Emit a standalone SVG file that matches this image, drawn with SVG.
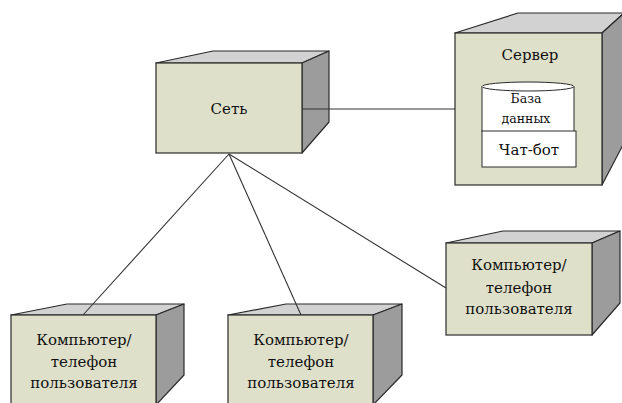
<svg xmlns="http://www.w3.org/2000/svg" width="622" height="403" viewBox="0 0 622 403">
<style>
.front{fill:#dee0ca;stroke:#2a2a2a;stroke-width:1.2}
.top{fill:#d2d2d2;stroke:#2a2a2a;stroke-width:1.2;stroke-linejoin:round}
.side{fill:#9c9c9c;stroke:#2a2a2a;stroke-width:1.2;stroke-linejoin:round}
text{font-family:'DejaVu Serif','Liberation Serif',serif;fill:#111;text-anchor:middle}
.t{font-size:15px}
.ts{font-size:12.5px}
.wb{fill:#fff;stroke:#2a2a2a;stroke-width:1}
.conn{stroke:#333;stroke-width:1.1;fill:none}
</style>
<rect width="622" height="403" fill="#fff"/>
<g id="node-set">
<polygon class="top" points="156,63 213,51 329,51 302,63"/>
<polygon class="side" points="302,63 329,51 329,122 302,153"/>
<rect class="front" x="156" y="63" width="146" height="90"/>
<text class="t" x="229" y="114">Сеть</text>
</g>
<g id="node-server">
<polygon class="top" points="455,33 518,13 624,13 602,33"/>
<polygon class="side" points="602,33 624,13 624,143 602,185"/>
<rect class="front" x="455" y="33" width="147" height="152"/>
<text class="t" x="530" y="60">Сервер</text>
<g id="node-db">
<path class="wb" d="M482,86.5 V132 H574 V86.5"/>
<ellipse class="wb" cx="528" cy="86.5" rx="46" ry="4.5"/>
<text class="ts" x="526" y="103">База</text>
<text class="ts" x="526" y="123">данных</text>
</g>
<g id="node-chatbot">
<rect class="wb" x="482" y="131" width="94" height="36"/>
<text class="t" x="529" y="155">Чат-бот</text>
</g>
</g>
<g id="node-client1">
<polygon class="top" points="11,315 67,304 184,304 156,315"/>
<polygon class="side" points="156,315 184,304 184,375 156,405"/>
<rect class="front" x="11" y="315" width="145" height="90"/>
<text class="t" x="84" y="345">Компьютер/</text>
<text class="t" x="84" y="367">телефон</text>
<text class="t" x="84" y="388">пользователя</text>
</g>
<g id="node-client2">
<polygon class="top" points="228,315 286,304 402,304 373,315"/>
<polygon class="side" points="373,315 402,304 402,375 373,405"/>
<rect class="front" x="228" y="315" width="145" height="90"/>
<text class="t" x="301" y="345">Компьютер/</text>
<text class="t" x="301" y="367">телефон</text>
<text class="t" x="301" y="388">пользователя</text>
</g>
<g id="node-client3">
<polygon class="top" points="446,243 503,231 620,231 592,243"/>
<polygon class="side" points="592,243 620,231 620,303 592,335"/>
<rect class="front" x="446" y="243" width="146" height="92"/>
<text class="t" x="519" y="270">Компьютер/</text>
<text class="t" x="519" y="293">телефон</text>
<text class="t" x="519" y="314">пользователя</text>
</g>
<g id="connectors">
<line class="conn" x1="302" y1="109" x2="455" y2="109"/>
<line class="conn" x1="229" y1="154" x2="83" y2="315"/>
<line class="conn" x1="229" y1="154" x2="301" y2="315"/>
<line class="conn" x1="229" y1="154" x2="446" y2="288"/>
</g>
</svg>
